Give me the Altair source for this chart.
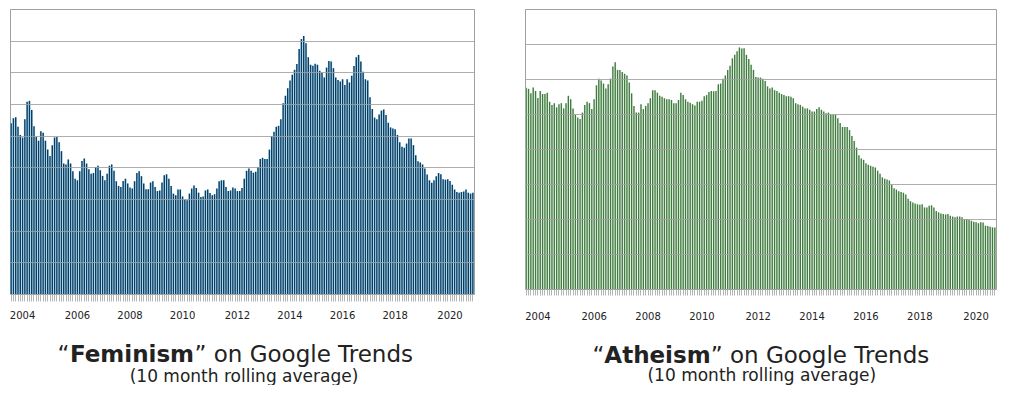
import altair as alt
import pandas as pd

# Google Trends, 10 month rolling average
feminism = [
    53.9, 55.5, 55.8, 52.8, 50.2, 49.4, 55.2, 60.7, 61.0, 58.1,
    53.0, 49.6, 48.4, 51.4, 50.9, 48.4, 45.6, 43.6, 47.0, 49.4,
    49.6, 47.9, 45.1, 41.2, 40.9, 42.5, 41.2, 38.8, 36.4, 35.9,
    38.8, 42.0, 42.8, 41.2, 39.4, 38.0, 38.2, 40.1, 40.5, 39.1,
    37.3, 35.9, 38.0, 40.5, 40.9, 38.9, 35.6, 34.1, 33.8, 35.7,
    36.4, 34.9, 33.6, 33.3, 35.6, 38.2, 38.8, 37.2, 34.9, 33.1,
    33.1, 35.2, 35.6, 33.8, 32.5, 32.7, 35.2, 37.5, 37.8, 36.4,
    34.1, 31.7, 31.2, 33.0, 33.0, 30.8, 29.8, 29.6, 31.7, 33.3,
    34.3, 33.5, 32.0, 30.6, 30.8, 32.7, 33.0, 31.9, 31.2, 31.5,
    33.3, 35.6, 35.9, 35.9, 33.8, 32.5, 32.7, 33.6, 33.3, 32.5,
    32.5, 33.5, 36.4, 38.9, 39.6, 38.9, 38.3, 38.6, 40.1, 42.6,
    43.0, 42.6, 42.6, 45.6, 49.9, 51.2, 52.8, 53.1, 55.2, 60.2,
    62.6, 65.0, 67.4, 69.2, 70.8, 72.6, 77.4, 80.5, 81.5, 79.2,
    74.8, 72.4, 72.1, 72.7, 72.4, 70.5, 69.9, 68.4, 71.5, 73.6,
    73.4, 71.3, 68.4, 67.6, 67.1, 67.8, 66.0, 67.8, 66.8, 68.9,
    72.0, 74.8, 75.5, 73.4, 70.2, 67.8, 67.4, 62.1, 58.4, 55.7,
    55.2, 56.7, 57.9, 58.3, 56.5, 54.1, 52.6, 52.3, 52.0, 50.2,
    47.9, 46.5, 46.2, 47.5, 49.1, 49.1, 47.0, 43.8, 41.9, 41.5,
    40.9, 39.6, 37.7, 35.9, 35.1, 35.9, 37.2, 38.2, 37.8, 36.2,
    36.1, 36.2, 35.7, 34.5, 33.0, 32.2, 32.0, 32.2, 32.4, 33.0,
    32.0, 31.7, 32.0,
]

atheism = [
    57.5, 57.2, 55.9, 57.6, 56.6, 54.6, 56.6, 55.7, 55.7, 56.1,
    53.5, 52.6, 53.1, 51.9, 52.8, 53.1, 51.6, 53.1, 55.2, 54.2,
    51.6, 49.8, 49.0, 48.6, 50.4, 52.6, 53.5, 53.1, 51.4, 54.2,
    58.2, 60.1, 59.6, 58.7, 57.3, 58.5, 60.1, 63.6, 64.8, 62.6,
    62.6, 62.0, 61.5, 61.0, 59.0, 55.9, 52.3, 50.4, 50.4, 52.8,
    51.4, 52.3, 53.1, 54.5, 56.8, 56.8, 56.1, 55.2, 54.9, 54.5,
    54.2, 54.2, 54.0, 53.1, 53.1, 54.0, 56.1, 55.4, 54.2, 53.5,
    53.2, 52.8, 52.4, 53.5, 53.5, 53.8, 55.1, 55.4, 56.3, 56.6,
    56.5, 56.6, 58.5, 58.7, 60.1, 61.0, 62.6, 63.8, 65.9, 66.9,
    67.9, 69.0, 68.7, 68.8, 66.9, 65.7, 64.1, 62.6, 60.6, 60.4,
    60.4, 60.1, 59.4, 57.9, 57.3, 57.6, 56.8, 56.6, 56.1, 55.7,
    55.4, 55.1, 55.1, 54.9, 54.5, 53.1, 52.8, 52.6, 52.1, 51.6,
    51.6, 51.2, 50.7, 50.7, 51.4, 51.9, 51.2, 50.7, 50.2, 50.4,
    49.8, 49.8, 49.8, 48.8, 47.4, 46.3, 46.3, 46.3, 45.4, 43.7,
    42.3, 40.4, 38.2, 37.3, 36.9, 35.9, 35.5, 35.2, 34.9, 34.7,
    33.8, 32.9, 31.9, 31.5, 31.3, 31.0, 29.8, 28.8, 28.4, 27.9,
    27.7, 27.5, 27.0, 25.8, 25.1, 24.7, 24.4, 24.2, 24.1, 24.2,
    23.3, 23.3, 23.8, 23.9, 23.3, 22.3, 21.9, 21.6, 21.4, 21.3,
    21.4, 20.9, 20.7, 20.5, 20.7, 20.7, 20.5, 20.0, 20.0, 19.7,
    19.5, 19.2, 19.1, 18.8, 19.1, 19.0, 18.1, 18.0, 17.8, 17.6,
    17.6,
]

year_labels = ["2004", "2006", "2008", "2010", "2012", "2014", "2016", "2018", "2020"]
fem_label_idx = [5, 29, 52, 75, 99, 122, 145, 168, 192]
ath_label_idx = [5, 29, 52, 75, 99, 122, 145, 168, 192]

FONT = "DejaVu Sans"


def text_layer(s, x, y, align, size, weight="normal"):
    return alt.Chart(pd.DataFrame({"t": [s]})).mark_text(
        align=align, baseline="alphabetic", font=FONT, fontSize=size,
        fontWeight=weight, color="#222222"
    ).encode(x=alt.value(x), y=alt.value(y), text="t:N")


def panel(values, label_idx, ymax, bar_color, gap_color, bar_frac, tick_size, label_pad):
    df = pd.DataFrame({"i": list(range(len(values))), "v": values})
    idx_js = "[" + ",".join(str(k) for k in label_idx) + "]"
    lab_js = "[" + ",".join("'" + y + "'" for y in year_labels) + "]"
    expr = (f"indexof({idx_js}, datum.value) >= 0 ? "
            f"{lab_js}[indexof({idx_js}, datum.value)] : ''")
    x = alt.X("i:O", scale=alt.Scale(paddingInner=0, paddingOuter=0),
              axis=alt.Axis(title=None, labelExpr=expr, labelAngle=0,
                            labelOverlap=False, labelFlush=False,
                            tickSize=tick_size, tickColor="#b4b4b4",
                            labelPadding=label_pad, labelFont=FONT,
                            labelFontSize=10, labelColor="#222222",
                            domain=False))
    y = alt.Y("v:Q", scale=alt.Scale(domain=[0, ymax], nice=False),
              axis=alt.Axis(title=None, labels=False, ticks=False, domain=False,
                            values=list(range(10, ymax, 10)),
                            gridColor="#a0a0a0", gridOpacity=0.85, zindex=1))
    base = alt.Chart(df)
    under = base.mark_bar(color=gap_color).encode(x=x, y=y)
    bars = base.mark_bar(color=bar_color, width=alt.RelativeBandSize(bar_frac)).encode(x=x, y=y)
    return under, bars


f_under, f_bars = panel(feminism, fem_label_idx, 90, "#0a3d66", "#bde9f6", 0.62, 7, 9)
a_under, a_bars = panel(atheism, ath_label_idx, 80, "#3f7a3f", "#edf6ed", 0.58, 6, 16)

left = alt.layer(
    f_under, f_bars,
    text_layer("\u201c", 59.5, 353, "right", 23),
    text_layer("Feminism", 122, 353, "center", 23, "bold"),
    text_layer("\u201d on Google Trends", 184.5, 353, "left", 23),
    text_layer("(10 month rolling average)", 234, 372.5, "center", 17),
).properties(width=464, height=285)

right = alt.layer(
    a_under, a_bars,
    text_layer("\u201c", 79.3, 353.5, "right", 23),
    text_layer("Atheism", 132.5, 353.5, "center", 23, "bold"),
    text_layer("\u201d on Google Trends", 185.7, 353.5, "left", 23),
    text_layer("(10 month rolling average)", 236.8, 372, "center", 17),
).properties(width=471, height=280)

chart = alt.hconcat(left, right, spacing=49).resolve_scale(x="independent", y="independent").properties(
    padding={"left": 0, "top": 0, "right": 0, "bottom": 0},
    background="white",
).configure_view(stroke="#a0a0a0", strokeWidth=1)

chart.save("out.html", embed_options={"renderer": "svg", "actions": False})
